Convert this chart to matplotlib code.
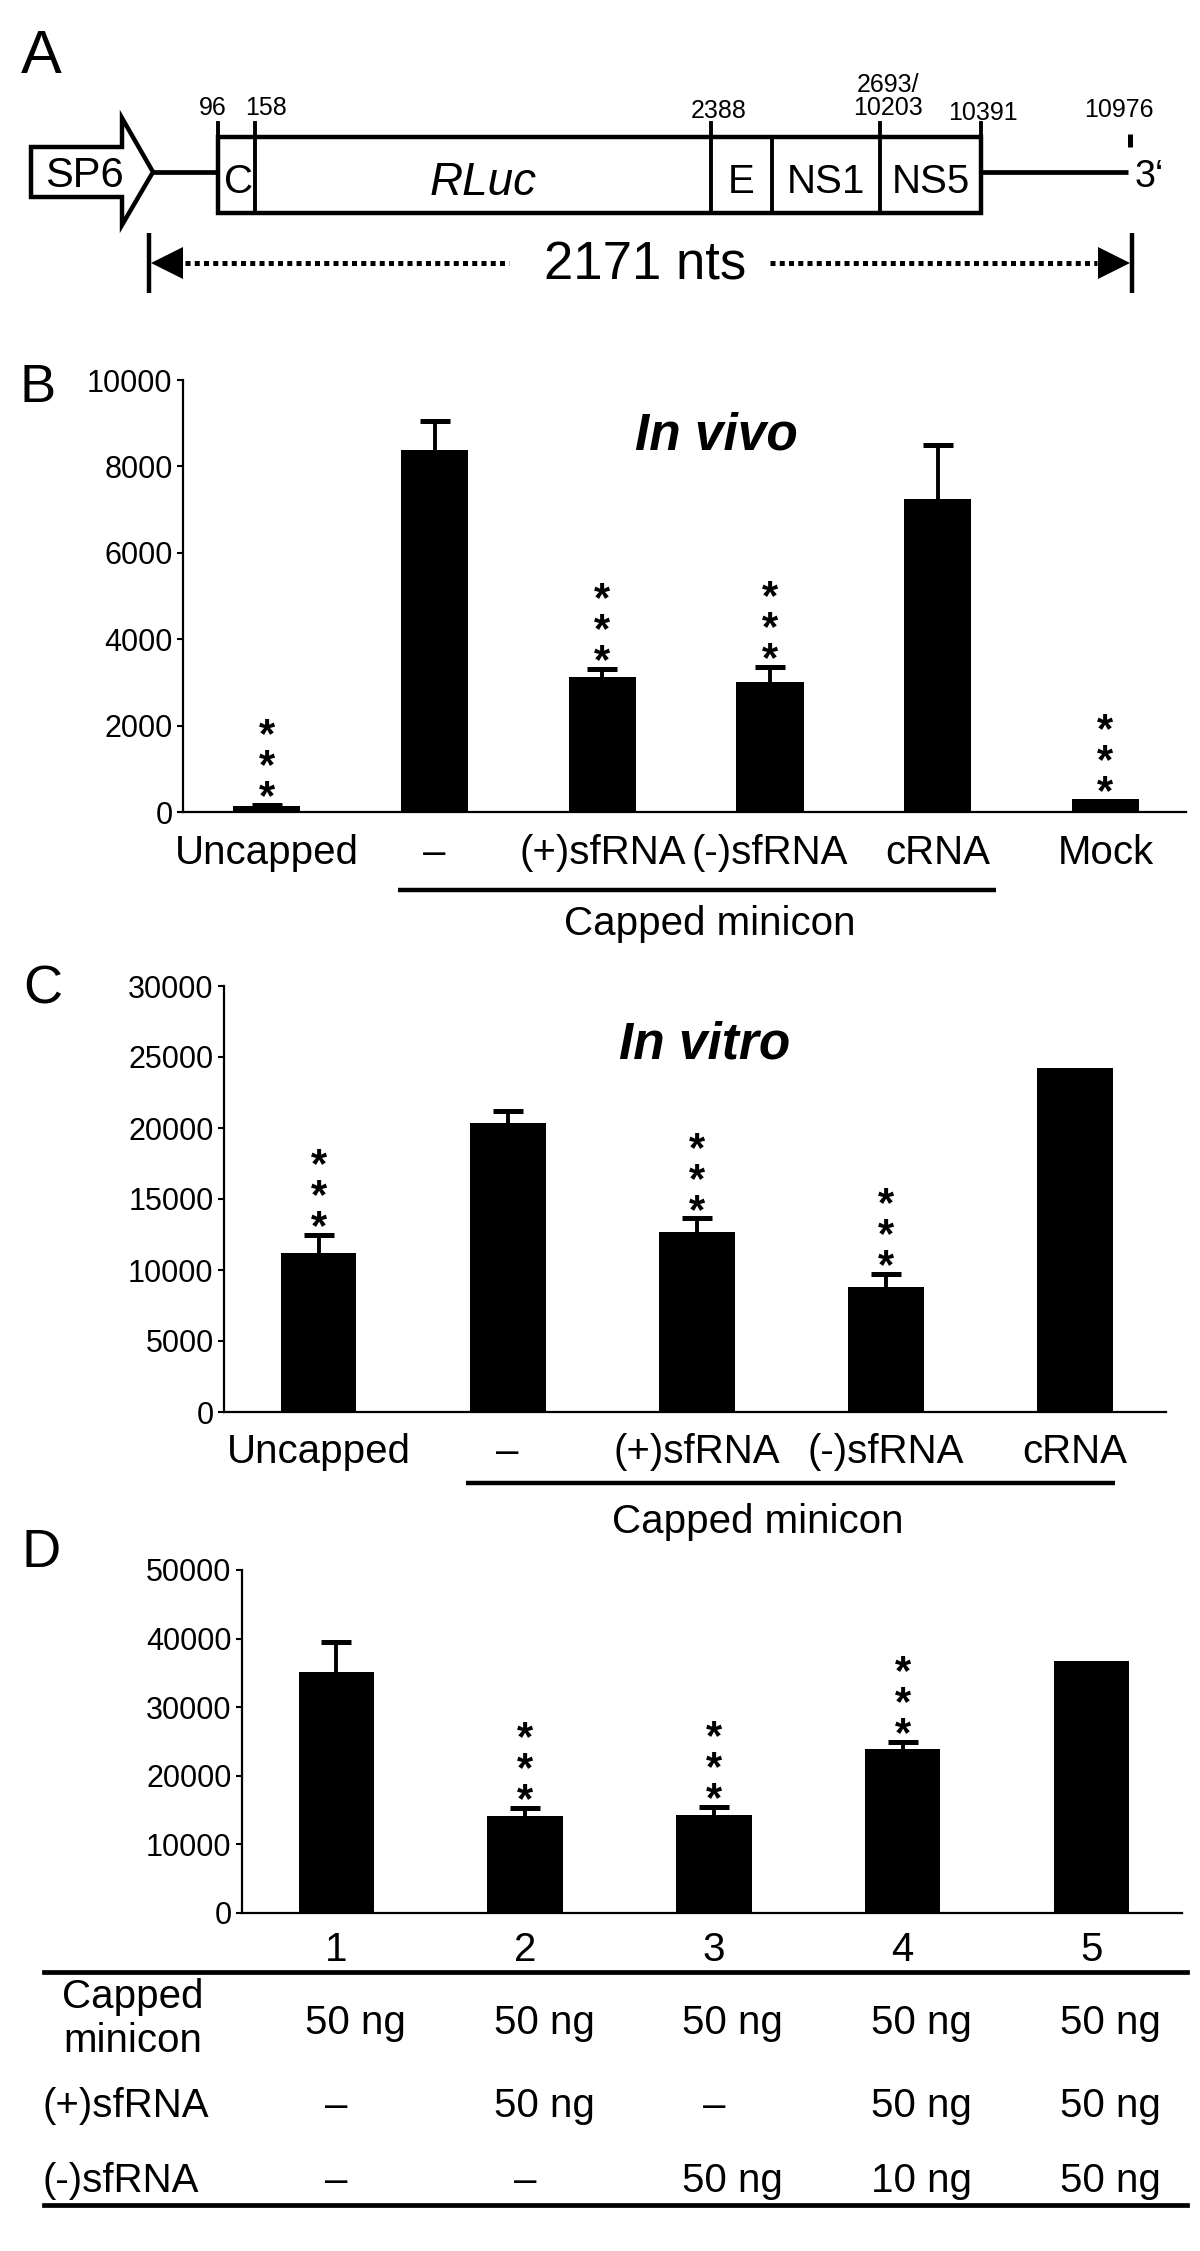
import matplotlib
matplotlib.use("Agg")
import matplotlib.pyplot as plt
import matplotlib.transforms as mtransforms
from matplotlib import font_manager
from matplotlib.patches import Polygon, Rectangle
from matplotlib.lines import Line2D
import numpy as np

plt.rcParams['font.family'] = ['Liberation Sans', 'DejaVu Sans']

# ---- data ----
# panel A: construct map (schematic, not to scale)
seg_names = ['C', 'RLuc', 'E', 'NS1', 'NS5']
nt_labels = ['96', '158', '2388', '2693/\n10203', '10391', '10976']
total_len = '2171 nts'

# panel B: in vivo
b_labels = ['Uncapped', '–', '(+)sfRNA', '(-)sfRNA', 'cRNA', 'Mock']
b_vals = [140, 8380, 3130, 3020, 7240, 290]
b_errs = [25, 670, 190, 330, 1250, 0]
b_stars = [True, False, True, True, False, True]

# panel C: in vitro
c_labels = ['Uncapped', '–', '(+)sfRNA', '(-)sfRNA', 'cRNA']
c_vals = [11190, 20320, 12650, 8830, 24250]
c_errs = [1310, 880, 990, 870, 0]
c_stars = [True, False, True, True, False]

# panel D: mixing experiment
d_labels = ['1', '2', '3', '4', '5']
d_vals = [35170, 14150, 14300, 23920, 36790]
d_errs = [4370, 1220, 1150, 1010, 0]
d_stars = [False, True, True, True, False]
row_names = ['(+)sfRNA', '(-)sfRNA']
capped_amt = ['50 ng', '50 ng', '50 ng', '50 ng', '50 ng']
plus_amt = ['–', '50 ng', '–', '50 ng', '50 ng']
minus_amt = ['–', '–', '50 ng', '10 ng', '50 ng']

# narrow face for the nucleotide numbers if it is there
installed = {f.name for f in font_manager.fontManager.ttflist}
if 'Liberation Sans Narrow' in installed:
    num_family, num_fs = 'Liberation Sans Narrow', 22
else:
    num_family, num_fs = 'Liberation Sans', 18

W, H = 1200, 2251
fig = plt.figure(figsize=(W / 100, H / 100), dpi=100)


def px_axes(left, top, right, bottom):
    return fig.add_axes([left / W, 1 - bottom / H, (right - left) / W, (bottom - top) / H])


def ftext(x, y, s, **kw):
    fig.text(x / W, 1 - y / H, s, va='baseline', **kw)


# ---------------- panel A ----------------
ax_a = px_axes(0, 0, 1200, 330)
ax_a.set_xlim(0, 1200)
ax_a.set_ylim(330, 0)
ax_a.axis('off')

ax_a.add_patch(Polygon([(31, 147), (122, 147), (122, 118), (153, 172), (122, 225),
                        (122, 197), (31, 197)], closed=True, fc='white', ec='black',
                       lw=3.2, joinstyle='miter'))
ax_a.text(84, 187, 'SP6', ha='center', va='baseline', fontsize=30)
ax_a.plot([153, 218], [172, 172], 'k-', lw=3.4, solid_capstyle='butt')

edges = [218, 255, 711, 772, 880, 981]
ax_a.add_patch(Rectangle((edges[0], 137), edges[-1] - edges[0], 76, fc='white',
                         ec='black', lw=3.2, joinstyle='miter'))
for x in edges[1:-1]:
    ax_a.plot([x, x], [137, 213], 'k-', lw=2.8)
for i, name in enumerate(seg_names):
    cx = (edges[i] + edges[i + 1]) / 2
    if name == 'RLuc':
        ax_a.text(cx, 195, name, ha='center', va='baseline', fontsize=33, style='italic')
    else:
        ax_a.text(cx + (2 if name == 'C' else 0), 193, name, ha='center', va='baseline',
                  fontsize=29)

tick_x = [218, 255, 711, 880, 981]
for x in tick_x:
    ax_a.plot([x, x], [123, 137], 'k-', lw=2.8)
lab_pos = [(213, 115), (266, 115), (719, 118), (888, 115), (983, 120), (1119, 117)]
for (x, y), s in zip(lab_pos, nt_labels):
    ax_a.text(x, y, s, ha='center', va='baseline', fontsize=num_fs, linespacing=0.95,
              family=[num_family, 'DejaVu Sans'])

ax_a.plot([981, 1128], [172, 172], 'k-', lw=3.4, solid_capstyle='butt')
ax_a.plot([1130, 1130], [134, 147], 'k-', lw=3.6, solid_capstyle='butt')
ax_a.text(1135, 187, '3‘', ha='left', va='baseline', fontsize=27)

# length arrow
for x in [149, 1132]:
    ax_a.plot([x, x], [233, 293], 'k-', lw=3.2, solid_capstyle='butt')
ax_a.add_patch(Polygon([(151, 263), (183, 247), (183, 279)], closed=True, fc='black', ec='none'))
ax_a.add_patch(Polygon([(1130, 263), (1098, 247), (1098, 279)], closed=True, fc='black', ec='none'))
for x0, x1 in [(185, 509), (770, 1097)]:
    ax_a.plot([x0, x1], [263, 263], color='black', lw=3.6, ls=(0, (1.0, 0.85)))
ax_a.text(645, 280, total_len, ha='center', va='baseline', fontsize=38)

# ---------------- bar panels ----------------
star_fs = 30
star_em = star_fs * 100 / 72
star_dy = (19 - (0.565 + 0.21) * star_em) * 72 / 100


def bar_panel(ax, labels, vals, errs, stars, ymax, step, pad):
    x = np.arange(len(vals))
    vals = np.array(vals, dtype=float)
    errs = np.array(errs, dtype=float)
    ax.bar(x, vals, width=0.4, color='black')
    has = errs > 0
    ax.errorbar(x[has], vals[has], yerr=[np.zeros(has.sum()), errs[has]], fmt='none',
                ecolor='black', elinewidth=2.8, capsize=0)
    ax.plot(x[has], (vals + errs)[has], ls='none', marker='_', ms=22, mew=3.6, color='black')
    for xi, top, s in zip(x, vals + errs, stars):
        if s:
            ax.annotate('*\n*\n*', (xi, top), xytext=(0, star_dy), textcoords='offset points',
                        ha='center', va='bottom', fontsize=star_fs, fontweight='bold',
                        linespacing=0.71)
    ax.set_xlim(-0.5, len(vals) - 0.52)
    ax.set_ylim(0, ymax)
    ax.set_yticks(np.arange(0, ymax + 1, step))
    ax.set_xticks(x, labels)
    ax.tick_params(axis='x', length=0, pad=pad, labelsize=29)
    ax.tick_params(axis='y', length=4.5, width=1.5, pad=3, labelsize=22)
    for sp in ['top', 'right']:
        ax.spines[sp].set_visible(False)
    for sp in ['left', 'bottom']:
        ax.spines[sp].set_linewidth(1.6)


def bracket(ax, x0, x1, y_px, axis_px, height_px, text_x, text_top_px):
    tr = mtransforms.blended_transform_factory(ax.transData, ax.transAxes)
    yf = -(y_px - axis_px) / height_px
    ax.plot([x0, x1], [yf, yf], color='black', lw=3.2, transform=tr, clip_on=False,
            solid_capstyle='butt')
    ax.text(text_x, -(text_top_px - axis_px) / height_px, 'Capped minicon', transform=tr,
            ha='center', va='top', fontsize=29)


# panel B
ax_b = px_axes(183, 380, 1186, 812)
bar_panel(ax_b, b_labels, b_vals, b_errs, b_stars, 10000, 2000, 16)
ax_b.text(2.68, 8400, 'In vivo', ha='center', va='baseline', fontsize=37,
          fontweight='bold', style='italic')
bracket(ax_b, 0.78, 4.35, 890, 812, 432, 2.64, 905)
ftext(20, 402, 'B', fontsize=39)

# panel C
ax_c = px_axes(224, 986, 1166, 1412)
bar_panel(ax_c, c_labels, c_vals, c_errs, c_stars, 30000, 5000, 15)
ax_c.text(2.04, 24900, 'In vitro', ha='center', va='baseline', fontsize=37,
          fontweight='bold', style='italic')
bracket(ax_c, 0.78, 4.21, 1483, 1412, 426, 2.32, 1503)
ftext(23, 1004, 'C', fontsize=39)

# panel D
ax_d = px_axes(242, 1570, 1182, 1913)
bar_panel(ax_d, d_labels, d_vals, d_errs, d_stars, 50000, 10000, 13)
ftext(21, 1567, 'D', fontsize=39)
ftext(21, 73, 'A', fontsize=44)

# table under panel D
for y in [1972, 2205]:
    fig.add_artist(Line2D([44 / W, 1187 / W], [1 - y / H] * 2, color='black', lw=3.4))
trd = mtransforms.blended_transform_factory(ax_d.transData, fig.transFigure)
ftext(133, 2008, 'Capped', ha='center', fontsize=29)
ftext(133, 2052, 'minicon', ha='center', fontsize=29)
ftext(42, 2117, row_names[0], ha='left', fontsize=29)
ftext(42, 2192, row_names[1], ha='left', fontsize=29)
for row, y in [(capped_amt, 2034), (plus_amt, 2117), (minus_amt, 2192)]:
    for i, s in enumerate(row):
        xi = i if s == '–' else i + 0.1
        fig.text(xi, 1 - y / H, s, transform=trd, ha='center', va='baseline', fontsize=29)

fig.savefig('out.png', dpi=100)
